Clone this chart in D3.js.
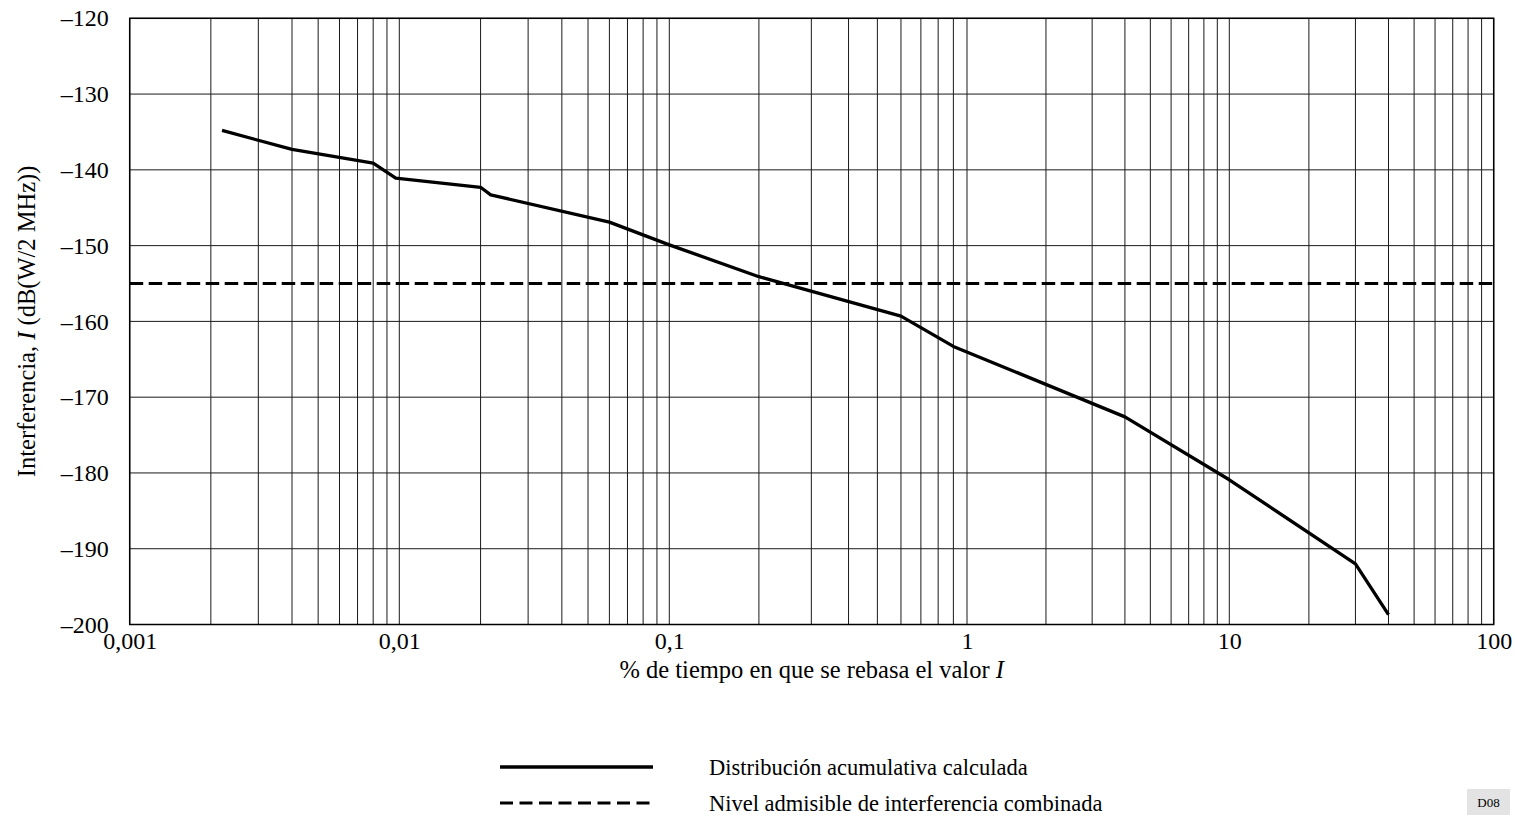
<!DOCTYPE html>
<html>
<head>
<meta charset="utf-8">
<script src="https://cdn.jsdelivr.net/npm/d3@7"></script>
<style>
  html, body { margin: 0; padding: 0; background: #fff; }
  svg { display: block; }
  text { font-family: "Liberation Serif", "Times New Roman", serif; fill: #000; }
</style>
</head>
<body>
<svg id="chart" width="1517" height="817"></svg>
<script>
// ---- data ----
const pctTime = [0.0022, 0.004, 0.008, 0.0097, 0.02, 0.0218, 0.06, 0.1, 0.2, 0.6, 0.9, 4, 10, 30, 40];
const interference = [-134.8, -137.3, -139.1, -141.1, -142.3, -143.3, -146.9, -149.9, -154.1, -159.3, -163.3, -172.6, -180.9, -192.0, -198.7];
const thresholdLevel = -155;
const xTickValues = [0.001, 0.01, 0.1, 1, 10, 100];
const xTickLabels = ["0,001", "0,01", "0,1", "1", "10", "100"];
const yTickValues = [-120, -130, -140, -150, -160, -170, -180, -190, -200];
const legendLabels = ["Distribución acumulativa calculada", "Nivel admisible de interferencia combinada"];

// ---- layout ----
const L = 129.7, R = 1493.7, T = 18.3, B = 624.5;
const svg = d3.select("#chart");

// piecewise log scale (decades in the source are not all equal width)
const x = d3.scaleLog()
  .domain(xTickValues)
  .range([L, 399.3, 669.3, 967, 1229.3, R]);
const y = d3.scaleLinear().domain([-200, -120]).range([B, T]);

// gridlines
const minor = [];
for (let d = -3; d < 2; d++) {
  for (let m = 1; m <= 9; m++) minor.push(m * Math.pow(10, d));
}
minor.push(100);
const grid = svg.append("g");
grid.selectAll("line.v").data(minor).enter().append("line")
  .attr("x1", d => x(d)).attr("x2", d => x(d))
  .attr("y1", T).attr("y2", B)
  .attr("stroke", "#1a1a1a").attr("stroke-width", 1);
grid.selectAll("line.h").data(yTickValues).enter().append("line")
  .attr("x1", L).attr("x2", R)
  .attr("y1", d => y(d)).attr("y2", d => y(d))
  .attr("stroke", "#1a1a1a").attr("stroke-width", 1);

// frame
svg.append("rect").attr("x", L).attr("y", T).attr("width", R - L).attr("height", B - T)
  .attr("fill", "none").attr("stroke", "#000").attr("stroke-width", 1.5);

// axes
const xAxis = svg.append("g").attr("transform", `translate(0,${B})`)
  .call(d3.axisBottom(x).tickValues(xTickValues).tickSize(0).tickPadding(7)
    .tickFormat((d, i) => xTickLabels[i]));
xAxis.select(".domain").remove();
xAxis.selectAll("text").style("font-family", "Liberation Serif").style("font-size", "24px");

const yAxis = svg.append("g").attr("transform", `translate(${L},0)`)
  .call(d3.axisLeft(y).tickValues(yTickValues).tickSize(0).tickPadding(21)
    .tickFormat(d => "–" + Math.abs(d)));
yAxis.select(".domain").remove();
yAxis.selectAll("text").style("font-family", "Liberation Serif").style("font-size", "24px");

// threshold dashed line
svg.append("line")
  .attr("x1", L).attr("x2", R)
  .attr("y1", y(thresholdLevel)).attr("y2", y(thresholdLevel))
  .attr("stroke", "#000").attr("stroke-width", 3).attr("stroke-dasharray", "13.5,5.5");

// data line
const line = d3.line().x((d, i) => x(pctTime[i])).y(d => y(d));
svg.append("path").datum(interference)
  .attr("d", line).attr("fill", "none")
  .attr("stroke", "#000").attr("stroke-width", 3.3).attr("stroke-linejoin", "round");

// axis titles
const xt = svg.append("text").attr("x", (L + R) / 2).attr("y", 678)
  .attr("text-anchor", "middle").style("font-size", "24.5px");
xt.append("tspan").text("% de tiempo en que se rebasa el valor ");
xt.append("tspan").style("font-style", "italic").text("I");

const yt = svg.append("text")
  .attr("transform", `translate(35,${(T + B) / 2}) rotate(-90)`)
  .attr("text-anchor", "middle").style("font-size", "24.5px");
yt.append("tspan").text("Interferencia, ");
yt.append("tspan").style("font-style", "italic").text("I");
yt.append("tspan").text(" (dB(W/2 MHz))");

// legend
const lg = svg.append("g");
lg.append("line").attr("x1", 500).attr("x2", 653).attr("y1", 767).attr("y2", 767)
  .attr("stroke", "#000").attr("stroke-width", 3.3);
lg.append("line").attr("x1", 500).attr("x2", 653).attr("y1", 803).attr("y2", 803)
  .attr("stroke", "#000").attr("stroke-width", 3).attr("stroke-dasharray", "13,6.5");
lg.selectAll("text").data(legendLabels).enter().append("text")
  .attr("x", 709).attr("y", (d, i) => 775 + i * 36)
  .style("font-size", "22.5px").text(d => d);

// figure code
svg.append("rect").attr("x", 1467).attr("y", 789).attr("width", 43).attr("height", 26).attr("fill", "#e3e3e3");
svg.append("text").attr("x", 1488.5).attr("y", 807).attr("text-anchor", "middle")
  .style("font-size", "13px").text("D08");
</script>
</body>
</html>
